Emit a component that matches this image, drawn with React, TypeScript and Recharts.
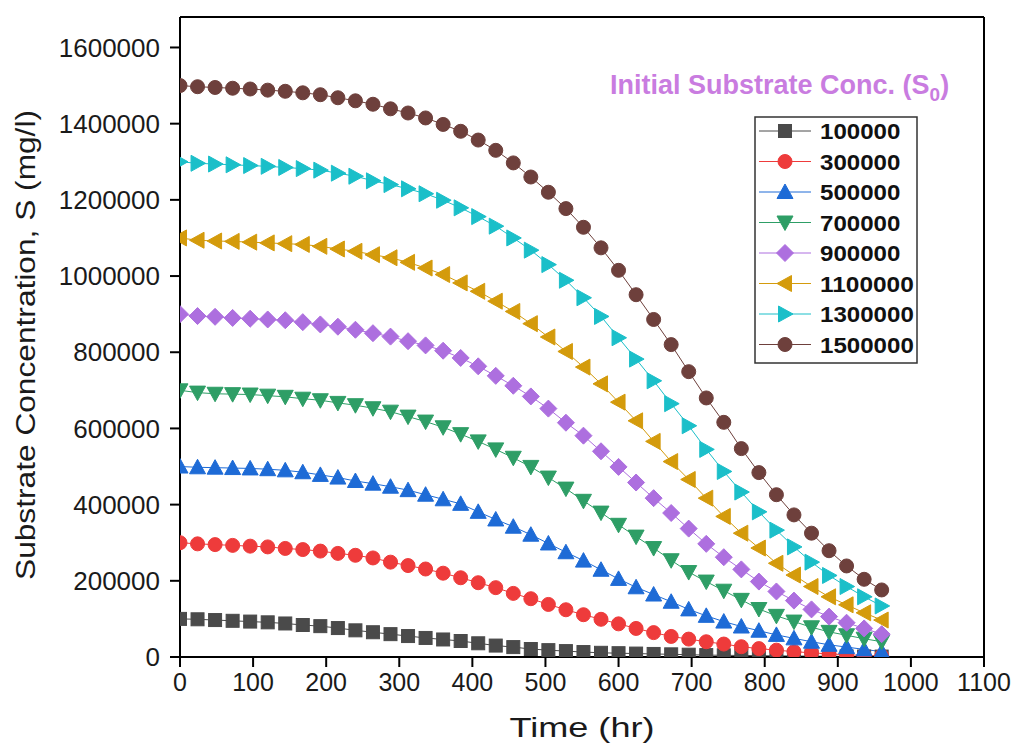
import React from "react";
import { LineChart, Line, XAxis, YAxis, ReferenceLine } from "recharts";

// time points (hr)
const times = [
  0, 24, 48, 72, 96, 120, 144, 168, 192, 216, 240, 264, 288, 312, 336, 360, 384, 408, 432, 456, 480,
  504, 528, 552, 576, 600, 624, 648, 672, 696, 720, 744, 768, 792, 816, 840, 864, 888, 912, 936, 960,
];

const s100000 = [
  100000, 99000, 97000, 95000, 93000, 91000, 88000, 84000, 81000, 76000, 70000, 65000, 60000, 55000,
  50000, 46000, 42000, 36000, 30000, 26000, 21000, 18000, 15500, 13000, 11000, 10000, 9000, 8000, 7000,
  6000, 5000, 4500, 4000, 3500, 3000, 2600, 2200, 1900, 1600, 1300, 1100,
];
const s300000 = [
  300000, 297000, 295000, 293000, 291000, 289000, 285000, 282000, 278000, 272000, 267000, 260000,
  249000, 240000, 231000, 220000, 208000, 195000, 182000, 167000, 153000, 138000, 124000, 111000, 99000,
  87000, 75000, 64000, 54000, 47000, 40000, 34000, 27000, 22000, 18000, 14000, 11000, 8000, 6000, 4000,
  3000,
];
const s500000 = [
  500000, 498000, 497000, 496000, 495000, 493000, 490000, 485000, 478000, 471000, 462000, 455000,
  447000, 438000, 426000, 414000, 402000, 381000, 361000, 342000, 321000, 298000, 275000, 253000,
  229000, 205000, 183000, 164000, 145000, 125000, 108000, 93000, 80000, 69000, 58000, 49000, 40000,
  32000, 26000, 20000, 14000,
];
const s700000 = [
  700000, 694000, 691000, 690000, 689000, 686000, 683000, 678000, 674000, 667000, 661000, 653000,
  644000, 631000, 618000, 603000, 585000, 566000, 545000, 523000, 499000, 471000, 442000, 410000,
  379000, 347000, 316000, 286000, 254000, 223000, 198000, 174000, 150000, 126000, 108000, 93000, 78000,
  66000, 57000, 48000, 40000,
];
const s900000 = [
  900000, 895000, 893000, 890000, 888000, 886000, 884000, 879000, 873000, 867000, 859000, 850000,
  841000, 829000, 818000, 804000, 785000, 763000, 738000, 712000, 684000, 652000, 615000, 581000,
  540000, 499000, 458000, 417000, 378000, 337000, 297000, 262000, 230000, 198000, 172000, 148000,
  125000, 106000, 90000, 75000, 60000,
];
const s1100000 = [
  1100000, 1094000, 1092000, 1091000, 1089000, 1087000, 1085000, 1083000, 1078000, 1071000, 1065000,
  1056000, 1048000, 1036000, 1021000, 1004000, 982000, 960000, 934000, 907000, 875000, 840000, 802000,
  761000, 717000, 669000, 620000, 566000, 513000, 466000, 417000, 369000, 325000, 286000, 246000,
  215000, 185000, 158000, 137000, 116000, 97000,
];
const s1300000 = [
  1300000, 1296000, 1294000, 1292000, 1290000, 1288000, 1285000, 1282000, 1278000, 1270000, 1262000,
  1250000, 1240000, 1229000, 1216000, 1199000, 1179000, 1156000, 1131000, 1100000, 1068000, 1030000,
  989000, 943000, 894000, 838000, 782000, 725000, 665000, 607000, 545000, 487000, 433000, 381000,
  333000, 289000, 249000, 214000, 185000, 158000, 134000,
];
const s1500000 = [
  1500000, 1497000, 1495000, 1493000, 1491000, 1488000, 1485000, 1481000, 1476000, 1468000, 1460000,
  1451000, 1439000, 1428000, 1415000, 1398000, 1380000, 1357000, 1330000, 1297000, 1260000, 1220000,
  1177000, 1128000, 1074000, 1015000, 951000, 886000, 820000, 749000, 680000, 616000, 547000, 484000,
  426000, 373000, 325000, 279000, 239000, 204000, 176000,
];

const seriesNames = ["100000", "300000", "500000", "700000", "900000", "1100000", "1300000", "1500000"];
const seriesValues = [s100000, s300000, s500000, s700000, s900000, s1100000, s1300000, s1500000];
const seriesColors = ["#4a4a4a", "#ee3b3b", "#1e6bd6", "#2e9e66", "#ad6fdf", "#d49b0c", "#1bbfc9", "#6e403c"];
const seriesShapes = ["square", "circle", "up", "down", "diamond", "left", "right", "circle"];

const xTicks = [0, 100, 200, 300, 400, 500, 600, 700, 800, 900, 1000, 1100];
const yTicks = [0, 200000, 400000, 600000, 800000, 1000000, 1200000, 1400000, 1600000];
const xMax = 1100;
const yMax = 1680000;

const data = times.map((t, i) => {
  const row: Record<string, number> = { t };
  seriesNames.forEach((n, k) => {
    row["s" + n] = seriesValues[k][i];
  });
  return row;
});

const FONT = "'Liberation Sans', Arial, sans-serif";

function Marker({ shape, cx, cy, color }: { shape: string; cx: number; cy: number; color: string }) {
  const p = { fill: color, stroke: color, strokeWidth: 1 };
  switch (shape) {
    case "square":
      return <rect x={cx - 6.5} y={cy - 6.5} width={13} height={13} {...p} />;
    case "circle":
      return <circle cx={cx} cy={cy} r={7} {...p} />;
    case "up":
      return <polygon points={`${cx},${cy - 8} ${cx + 8},${cy + 6.5} ${cx - 8},${cy + 6.5}`} {...p} />;
    case "down":
      return <polygon points={`${cx},${cy + 8} ${cx + 8},${cy - 6.5} ${cx - 8},${cy - 6.5}`} {...p} />;
    case "diamond":
      return <polygon points={`${cx},${cy - 8.5} ${cx + 8.5},${cy} ${cx},${cy + 8.5} ${cx - 8.5},${cy}`} {...p} />;
    case "left":
      return <polygon points={`${cx - 8},${cy} ${cx + 6.5},${cy - 8} ${cx + 6.5},${cy + 8}`} {...p} />;
    case "right":
      return <polygon points={`${cx + 8},${cy} ${cx - 6.5},${cy - 8} ${cx - 6.5},${cy + 8}`} {...p} />;
    default:
      return null;
  }
}

const makeDot = (shape: string, color: string) => (props: any) => {
  const { cx, cy, index } = props;
  if (cx == null || cy == null) return <g key={`d-${index}`} />;
  return (
    <g key={`d-${shape}-${index}`}>
      <Marker shape={shape} cx={cx} cy={cy} color={color} />
    </g>
  );
};

export default function App() {
  return (
    <div style={{ position: "absolute", left: 0, top: 0, width: 1015, height: 747, background: "#fff" }}>
      <LineChart
        width={1015}
        height={747}
        data={data}
        margin={{ top: 17, right: 31, left: 9, bottom: 30 }}
      >
        <XAxis
          dataKey="t"
          type="number"
          domain={[0, xMax]}
          ticks={xTicks}
          allowDataOverflow
          height={60}
          tickSize={10}
          tickMargin={6}
          axisLine={{ stroke: "#000", strokeWidth: 2 }}
          tickLine={{ stroke: "#000", strokeWidth: 2 }}
          tick={{ fontSize: 25, fill: "#1a1a1a", fontFamily: FONT }}
        />
        <YAxis
          type="number"
          domain={[0, yMax]}
          ticks={yTicks}
          allowDataOverflow
          width={171}
          tickSize={10}
          tickMargin={10}
          axisLine={{ stroke: "#000", strokeWidth: 2 }}
          tickLine={{ stroke: "#000", strokeWidth: 2 }}
          tick={{ fontSize: 26, fill: "#1a1a1a", fontFamily: FONT }}
        />
        {/* frame: top and right edges */}
        <ReferenceLine y={yMax} stroke="#000" strokeWidth={2} />
        <ReferenceLine x={xMax} stroke="#000" strokeWidth={2} />
        {seriesNames.map((n, k) => (
          <Line
            key={n}
            dataKey={"s" + n}
            name={n}
            type="linear"
            stroke={seriesColors[k]}
            strokeWidth={1}
            dot={makeDot(seriesShapes[k], seriesColors[k])}
            activeDot={false}
            isAnimationActive={false}
          />
        ))}
      </LineChart>
      <svg
        width={1015}
        height={747}
        style={{ position: "absolute", left: 0, top: 0, pointerEvents: "none" }}
      >
        <text
          transform="translate(35,345) rotate(-90)"
          textAnchor="middle"
          fontSize={27}
          fontFamily={FONT}
          fill="#1a1a1a"
          textLength={470}
          lengthAdjust="spacingAndGlyphs"
        >
          Substrate Concentration, S (mg/l)
        </text>
        <text
          x={582}
          y={737}
          textAnchor="middle"
          fontSize={28}
          fontFamily={FONT}
          fill="#1a1a1a"
          textLength={145}
          lengthAdjust="spacingAndGlyphs"
        >
          Time (hr)
        </text>
        <text x={610} y={94} fontSize={27} fontWeight="bold" fontFamily={FONT} fill="#c97ce0">
          Initial Substrate Conc. (S
          <tspan fontSize={19} dy={7}>
            0
          </tspan>
          <tspan dy={-7}>)</tspan>
        </text>
        <rect x={755} y={117} width={162} height={246} fill="#fff" stroke="#333" strokeWidth={1.5} />
        {seriesNames.map((n, k) => {
          const y = 131 + k * 30.5;
          return (
            <g key={n}>
              <line x1={759} x2={811} y1={y} y2={y} stroke={seriesColors[k]} strokeWidth={1} />
              <Marker shape={seriesShapes[k]} cx={785} cy={y} color={seriesColors[k]} />
              <text
                x={820}
                y={y + 8}
                fontSize={22}
                fontWeight="bold"
                fontFamily={FONT}
                fill="#111"
                textLength={n.length * 13.4}
                lengthAdjust="spacingAndGlyphs"
              >
                {n}
              </text>
            </g>
          );
        })}
      </svg>
    </div>
  );
}
